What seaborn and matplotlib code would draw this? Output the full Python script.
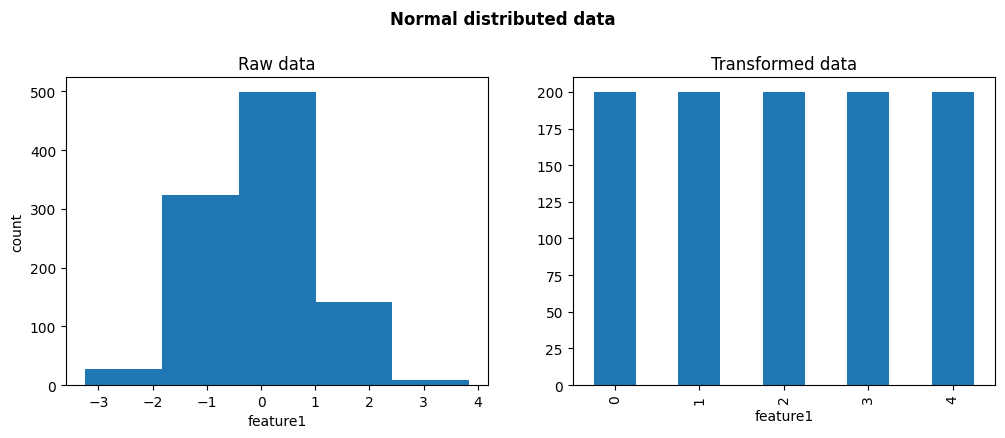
import matplotlib
matplotlib.use("Agg")
import matplotlib.pyplot as plt
import numpy as np
import pandas as pd
import seaborn as sns

# raw histogram (5 bins)
bin_edges = [-3.245, -1.828, -0.41, 1.007, 2.424, 3.84]
raw_counts = [27, 323, 499, 142, 9]

# transformed data: equal-frequency bins
bin_labels = ["0", "1", "2", "3", "4"]
bin_counts = [200, 200, 200, 200, 200]

blue = "#1f77b4"

fig, (ax1, ax2) = plt.subplots(1, 2, figsize=(10.05, 4.39))
fig.subplots_adjust(left=0.0657, right=0.990, bottom=0.1207, top=0.8216, wspace=0.2)

# Raw data histogram
centers = [(bin_edges[i] + bin_edges[i + 1]) / 2 for i in range(len(raw_counts))]
raw = pd.DataFrame({"feature1": centers, "count": raw_counts})
sns.histplot(
    data=raw,
    x="feature1",
    weights="count",
    bins=bin_edges,
    color=blue,
    alpha=1,
    linewidth=0,
    ax=ax1,
)
ax1.set_title("Raw data")
ax1.set(xlabel="feature1", ylabel="count")
ax1.set_xticks([-3, -2, -1, 0, 1, 2, 3, 4])

# Transformed data bar chart
trans = pd.DataFrame({"feature1": bin_labels, "count": bin_counts})
sns.barplot(data=trans, x="feature1", y="count", color=blue, saturation=1, width=0.5, ax=ax2)
ax2.set_title("Transformed data")
ax2.set(xlabel="feature1", ylabel="")
ax2.set_xlim(-0.5, 4.5)
ax2.set_ylim(0, 210)
ax2.set_yticks(np.arange(0, 201, 25))
ax2.tick_params(axis="x", labelrotation=90)

fig.suptitle("Normal distributed data", fontweight="bold", y=0.975)

plt.savefig("out.png", dpi=100)
